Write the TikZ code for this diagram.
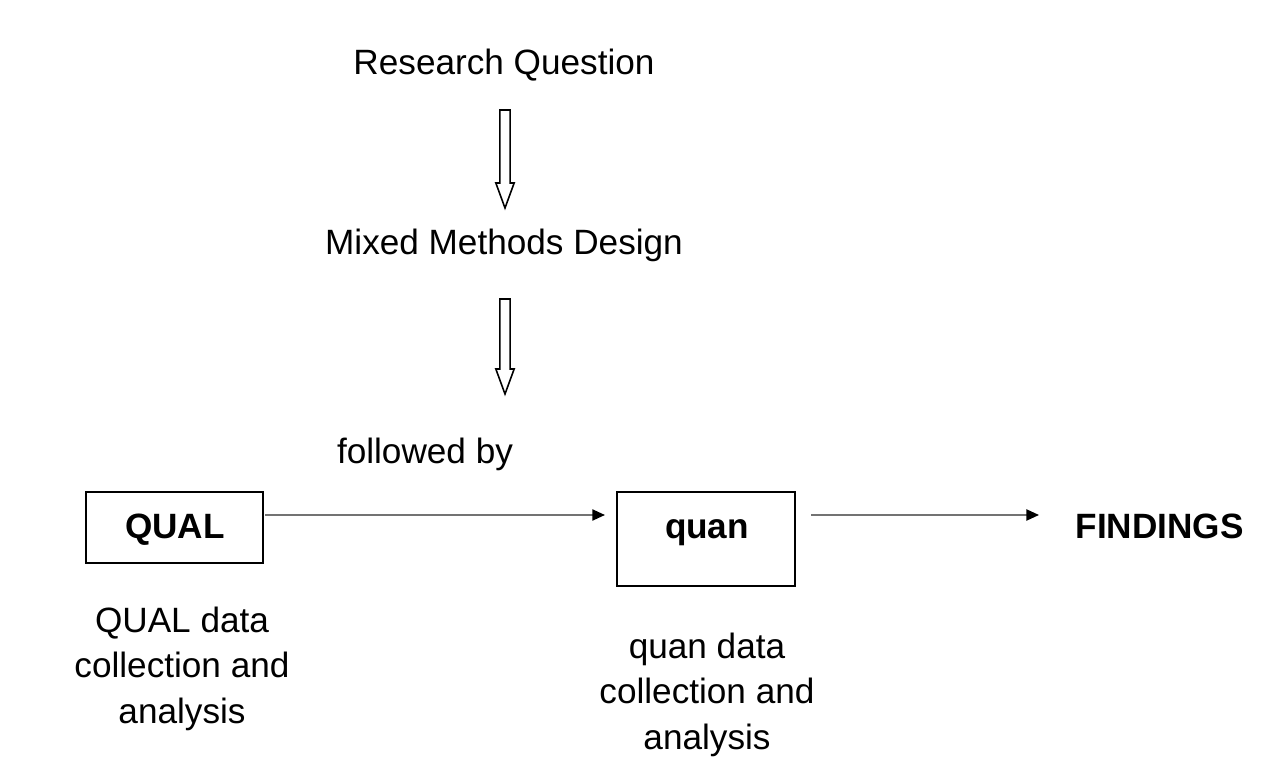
\documentclass[tikz,border=0pt]{standalone}
\usepackage{fontspec}
\setmainfont{Liberation Sans}
\usetikzlibrary{arrows.meta,calc}

\tikzset{
  txt/.style={font=\fontsize{10}{12.8}\selectfont, inner sep=0pt, anchor=base, align=center},
  boldtxt/.style={txt, font=\fontsize{10}{12.8}\selectfont\bfseries},
  box/.style={draw=black, line width=0.7pt, rectangle, inner sep=0pt, outer sep=0pt},
  flow/.style={draw=black!55, line width=0.45pt,
    -{Triangle[length=3.6pt,width=3.2pt,fill=black,color=black]}},
  % outlined block arrow pointing downwards
  hollowarrow/.style={draw=black, line width=0.45pt, line join=miter,
    to path={let \p1=(\tikztostart), \p2=(\tikztotarget) in
      (\x1-1.45pt,\y1) -- (\x1-1.45pt,\y2+7.1pt) -- (\x1-2.6pt,\y2+7.1pt) --
      (\x2,\y2) -- (\x1+2.6pt,\y2+7.1pt) -- (\x1+1.45pt,\y2+7.1pt) --
      (\x1+1.45pt,\y1) -- cycle}}
}

\begin{document}
\begin{tikzpicture}[x=0.01cm,y=-0.01cm]
  \useasboundingbox (0,0) rectangle (1278,770);

  % heading and design
  \node[txt] (rq) at (504,75) {Research Question};
  \node[txt] (mmd) at (504,255) {Mixed Methods Design};
  \node[txt] (fb) at (425,463) {followed by};

  % arrow anchors between the headings
  \coordinate (a1s) at (505,110);
  \coordinate (a1e) at (505,208);
  \coordinate (a2s) at (505,299);
  \coordinate (a2e) at (505,394);
  \draw[hollowarrow] (a1s) to (a1e);
  \draw[hollowarrow] (a2s) to (a2e);

  % sequence of phases
  \node[box, minimum width=1.77cm, minimum height=0.71cm] (qual) at (174.5,527.5) {};
  \node[boldtxt] (qualtxt) at (175,538) {QUAL};
  \node[box, minimum width=1.78cm, minimum height=0.94cm] (quan) at (706,539) {};
  \node[boldtxt] (quantxt) at (707,538) {quan};
  \node[boldtxt, anchor=base west] (find) at (1075,538) {FINDINGS};

  \draw[flow] ([shift={(2,-12.5)}]qual.east) -- ([shift={(-12,-24)}]quan.west);
  \coordinate (q0) at ([shift={(16,-24)}]quan.east);
  \coordinate (f0) at (q0 -| find.west);
  \draw[flow] (q0) -- ([shift={(-36,0)}]f0);

  % descriptions under the boxes (base anchor sits on the last line)
  \node[txt] (qualdesc) at (182,723) {QUAL data\\collection and\\analysis};
  \node[txt] (quandesc) at (707,749) {quan data\\collection and\\analysis};
\end{tikzpicture}
\end{document}
